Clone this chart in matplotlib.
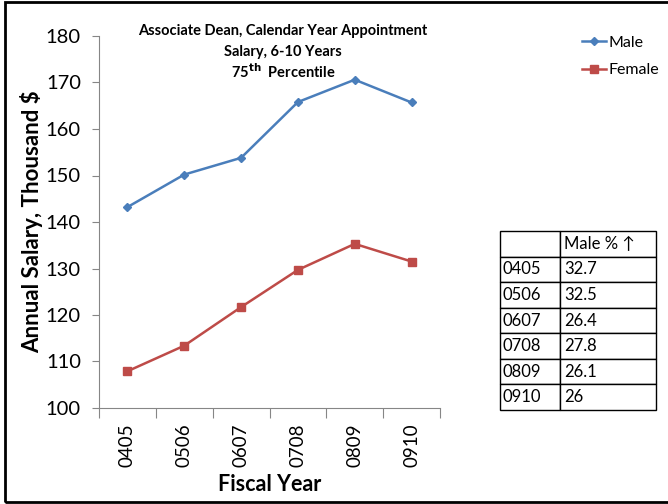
import matplotlib
matplotlib.use("Agg")
import matplotlib.pyplot as plt
from matplotlib.patches import Rectangle

plt.rcParams['font.family'] = ['Lato', 'DejaVu Sans']

years = ["0405", "0506", "0607", "0708", "0809", "0910"]
male = [143.2, 150.2, 153.8, 165.8, 170.6, 165.7]
female = [107.9, 113.4, 121.7, 129.7, 135.3, 131.5]
male_pct = ["32.7", "32.5", "26.4", "27.8", "26.1", "26"]
title_lines = ["Associate Dean, Calendar Year Appointment", "Salary, 6-10 Years"]

fig = plt.figure(figsize=(6.68, 5.04), dpi=100)
ax = fig.add_axes([99/668, 1-408/504, 341/668, 372/504])

x = list(range(len(years)))
ax.plot(x, male, color='#4A7EBB', lw=1.8, marker='D', ms=4, label='Male')
ax.plot(x, female, color='#BE4B48', lw=1.8, marker='s', ms=6, label='Female')

ax.set_xlim(-0.5, len(years) - 0.5)
ax.set_ylim(100, 180)
ax.set_yticks(range(100, 181, 10))
ax.set_xticks([i - 0.5 for i in range(len(years) + 1)])
ax.set_xticklabels([])
ax.set_xticks(x, minor=True)
ax.set_xticklabels(years, minor=True, rotation=90, fontsize=13.5)
ax.tick_params(axis='x', which='major', length=7, color='#868686', direction='out')
ax.tick_params(axis='x', which='minor', length=0, pad=11)
ax.tick_params(axis='y', length=5, color='#868686', labelsize=14.5, pad=8)
for s in ['top', 'right']:
    ax.spines[s].set_visible(False)
for s in ['left', 'bottom']:
    ax.spines[s].set_color('#868686')

ax.set_ylabel("Annual Salary, Thousand $", fontsize=16, fontweight='bold', labelpad=2)
ax.set_xlabel("Fiscal Year", fontsize=15.5, fontweight='bold', labelpad=5)

fig.text(283/668, 1-31/504, title_lines[0], ha='center', va='center',
         fontsize=10.5, fontweight='bold')
fig.text(283/668, 1-52/504, title_lines[1], ha='center', va='center',
         fontsize=10.5, fontweight='bold')
fig.text(283/668, 1-72/504, r"75$^{\mathbf{th}}$  Percentile", ha='center', va='center',
         fontsize=10.5, fontweight='bold')

leg = fig.legend(loc='upper left', bbox_to_anchor=(568/668, 1-21/504), frameon=False,
                 fontsize=11.5, handlelength=1.5, handletextpad=0.15, labelspacing=0.85)

# table
tax = fig.add_axes([500/668, 1-410/504, 156/668, 179/504])
tax.axis('off')
cells = [["", "Male % \u2191"]] + [[y, p] for y, p in zip(years, male_pct)]
tbl = tax.table(cellText=cells, bbox=[0, 0, 1, 1], cellLoc='left',
                colWidths=[60/156, 96/156])
tbl.auto_set_font_size(False)
for (r, c), cell in tbl.get_celld().items():
    cell.set_edgecolor('black')
    cell.set_linewidth(1.0)
    cell.get_text().set_fontsize(12)
    cell.PAD = 0.04

fig.patches.append(Rectangle((5/668, 2/504), 2, 500/504, transform=fig.transFigure,
                             fill=False, edgecolor='black', lw=2))

fig.savefig("out.png", dpi=100)
